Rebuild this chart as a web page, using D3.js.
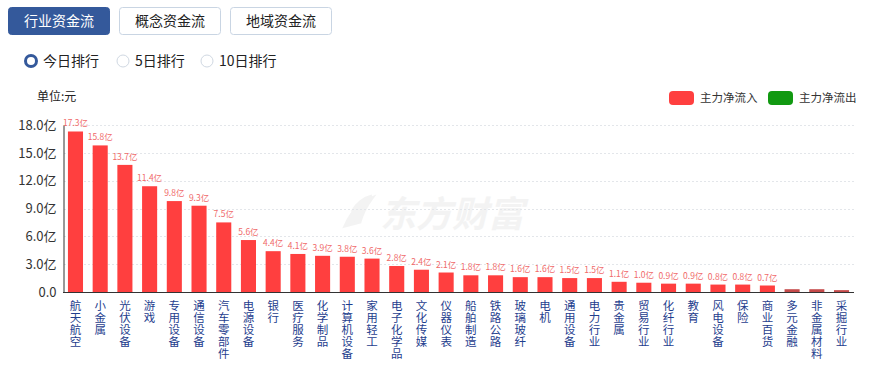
<!DOCTYPE html>
<html><head><meta charset="utf-8">
<script src="https://cdn.jsdelivr.net/npm/d3@7/dist/d3.min.js"></script>
<style>
html,body{margin:0;padding:0;background:#fff;}
svg{display:block;font-family:"Microsoft YaHei","Noto Sans CJK SC",sans-serif;}
</style></head>
<body>
<svg id="c" width="870" height="366"></svg>
<script>
const categories = ["航天航空","小金属","光伏设备","游戏","专用设备","通信设备","汽车零部件","电源设备","银行","医疗服务","化学制品","计算机设备","家用轻工","电子化学品","文化传媒","仪器仪表","船舶制造","铁路公路","玻璃玻纤","电机","通用设备","电力行业","贵金属","贸易行业","化纤行业","教育","风电设备","保险","商业百货","多元金融","非金属材料","采掘行业"];
const inflow = [17.3,15.8,13.7,11.4,9.8,9.3,7.5,5.6,4.4,4.1,3.9,3.8,3.6,2.8,2.4,2.1,1.8,1.8,1.6,1.6,1.5,1.5,1.1,1.0,0.9,0.9,0.8,0.8,0.7,0.3,0.3,0.2];
const labeled = [true,true,true,true,true,true,true,true,true,true,true,true,true,true,true,true,true,true,true,true,true,true,true,true,true,true,true,true,true,false,false,false];
const yTicks = [0,3,6,9,12,15,18];
const tabs = ["行业资金流","概念资金流","地域资金流"];
const radios = ["今日排行","5日排行","10日排行"];
const legendItems = ["主力净流入","主力净流出"];

const svg = d3.select("#c");
const font = '"Microsoft YaHei","Noto Sans CJK SC",sans-serif';

// tabs
const tabX = [8,119,230];
tabs.forEach((t,i)=>{
  const g = svg.append("g");
  g.append("rect").attr("x",tabX[i]+0.5).attr("y",7.5).attr("width",101).attr("height",27).attr("rx",3)
    .attr("fill", i===0 ? "#34599b" : "#fff").attr("stroke", i===0 ? "#34599b" : "#c9d5e3");
  g.append("text").attr("x",tabX[i]+51).attr("y",26).attr("text-anchor","middle")
    .attr("font-size",14).attr("fill", i===0 ? "#fff" : "#222").text(t);
});
// radios
const radX = [31,123,207];
radios.forEach((t,i)=>{
  if(i===0){
    svg.append("circle").attr("cx",radX[i]).attr("cy",61).attr("r",5.5).attr("fill","#fff").attr("stroke","#34599b").attr("stroke-width",3);
  } else {
    svg.append("circle").attr("cx",radX[i]).attr("cy",61).attr("r",6).attr("fill","#fff").attr("stroke","#d0d8e2");
  }
  svg.append("text").attr("x",radX[i]+12).attr("y",66).attr("font-size",14).attr("fill","#222").text(t);
});

svg.append("text").attr("x",37).attr("y",101).attr("font-size",12).attr("fill","#222").text("单位:元");

// legend
const legColors = ["#ff3f3f","#119911"];
const legX = [669,768];
legendItems.forEach((t,i)=>{
  svg.append("rect").attr("x",legX[i]).attr("y",91).attr("width",25).attr("height",14).attr("rx",4).attr("fill",legColors[i]);
  svg.append("text").attr("x",legX[i]+31).attr("y",102).attr("font-size",11.5).attr("fill","#333").text(t);
});

// scales
const x = d3.scaleBand().domain(categories).range([63,854]).paddingInner(0.39).paddingOuter(0.2);
const y = d3.scaleLinear().domain([0,18]).range([292,125]);

// watermark
const wm = svg.append("g").attr("opacity",0.6);
wm.append("text").attr("x",380).attr("y",227).attr("font-size",36).attr("font-weight","bold")
  .attr("fill","#ececec").attr("font-style","italic").text("东方财富");
wm.append("path").attr("d","M345,226 C352,210 362,202 372,198 C366,206 362,214 360,222 Z M352,212 C356,204 364,198 372,196")
  .attr("fill","#ececec").attr("stroke","#ececec").attr("stroke-width",3);

// grid
svg.append("g").selectAll("line").data(yTicks.filter(d=>d>0)).join("line")
  .attr("x1",64).attr("x2",854).attr("y1",d=>Math.round(y(d))+0.5).attr("y2",d=>Math.round(y(d))+0.5)
  .attr("stroke","#e3e6ea").attr("stroke-dasharray","2,2");

// y axis
const yAxis = d3.axisLeft(y).tickValues(yTicks).tickSize(0).tickPadding(7)
  .tickFormat(d=> d===0 ? "0.0" : d.toFixed(1)+"亿");
const ya = svg.append("g").attr("transform","translate(63.5,0)").call(yAxis);
ya.select(".domain").attr("stroke","#333");
ya.selectAll("text").attr("font-size",13).attr("fill","#333").attr("font-family",font);

// bars
svg.append("g").selectAll("rect").data(inflow).join("rect")
  .attr("x",(d,i)=>x(categories[i])).attr("width",x.bandwidth())
  .attr("y",d=>y(d)).attr("height",d=>y(0)-y(d))
  .attr("fill",(d,i)=>labeled[i] ? "#ff3f3f" : "#c54a4a");

// value labels
svg.append("g").selectAll("text").data(inflow).join("text")
  .filter((d,i)=>labeled[i])
  .attr("x",(d,i)=>x(categories[i])+x.bandwidth()/2).attr("y",d=>y(d)-5)
  .attr("text-anchor","middle").attr("font-size",8.5).attr("fill","#f06a6a")
  .text(d=>d.toFixed(1)+"亿");

// x axis
const xAxis = d3.axisBottom(x).tickSize(0).tickFormat("");
const xa = svg.append("g").attr("transform","translate(0,292.5)").call(xAxis);
xa.select(".domain").attr("stroke","#333").attr("d","M63,0H854");

// x labels vertical
const xl = svg.append("g");
categories.forEach((c,i)=>{
  const t = xl.append("text").attr("font-size",11.5).attr("fill","#1f3e8e").attr("text-anchor","middle");
  Array.from(c).forEach((ch,j)=>{
    t.append("tspan").attr("x",x(c)+x.bandwidth()/2).attr("y",310+j*12).text(ch);
  });
});
</script>
</body></html>
